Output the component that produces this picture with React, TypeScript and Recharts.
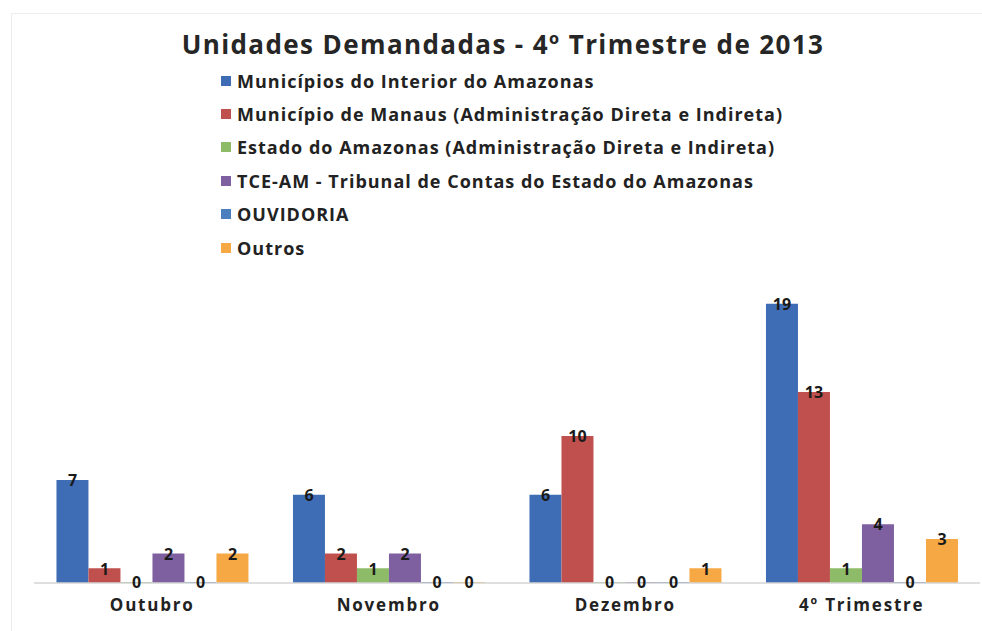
import { BarChart, Bar, XAxis, YAxis, Legend, LabelList } from "recharts";

const categories = ["Outubro", "Novembro", "Dezembro", "4º Trimestre"];
const interior = [7, 6, 6, 19];
const manaus = [1, 2, 10, 13];
const estado = [0, 1, 0, 1];
const tce = [2, 2, 0, 4];
const ouvidoria = [0, 0, 0, 0];
const outros = [2, 0, 1, 3];

const series = [
  { key: "interior", name: "Municípios do Interior do Amazonas", color: "#3F6DB5", values: interior },
  { key: "manaus", name: "Município de Manaus (Administração Direta e Indireta)", color: "#C0504D", values: manaus },
  { key: "estado", name: "Estado do Amazonas (Administração Direta e Indireta)", color: "#8DBB67", values: estado },
  { key: "tce", name: "TCE-AM - Tribunal de Contas do Estado do Amazonas", color: "#7E60A0", values: tce },
  { key: "ouvidoria", name: "OUVIDORIA", color: "#4A7EBF", values: ouvidoria },
  { key: "outros", name: "Outros", color: "#F6A845", values: outros },
];

const data = categories.map((name, i) => {
  const row: Record<string, string | number> = { name };
  series.forEach((s) => {
    row[s.key] = s.values[i];
  });
  return row;
});

const FONT = "'Open Sans', sans-serif";

// eslint-disable-next-line @typescript-eslint/no-explicit-any
const BarLabel = (props: any) => {
  const { x, y, width, value } = props;
  return (
    <text
      x={Number(x) + Number(width) / 2}
      y={Number(y) + 2}
      textAnchor="middle"
      dominantBaseline="middle"
      fontFamily={FONT}
      fontWeight={700}
      fontSize={16}
      fill="#1a1a1a"
    >
      {String(value)}
    </text>
  );
};

const LegendList = () => (
  <div style={{ fontFamily: FONT, fontWeight: 700, fontSize: 18, letterSpacing: 1, color: "#222" }}>
    {series.map((s) => (
      <div key={s.key} style={{ display: "flex", alignItems: "center", height: 33.4, whiteSpace: "nowrap" }}>
        <span style={{ width: 10, height: 10, background: s.color, marginRight: 6, display: "inline-block" }} />
        <span>{s.name}</span>
      </div>
    ))}
  </div>
);

export default function App() {
  return (
    <div style={{ position: "absolute", left: 0, top: 0, width: 982, height: 631, background: "#fff", overflow: "hidden" }}>
      <div
        style={{
          position: "absolute",
          left: 11,
          top: 13,
          width: 990,
          height: 640,
          borderLeft: "1px solid #ececec",
          borderTop: "1px solid #ececec",
        }}
      />
      <div
        style={{
          position: "absolute",
          left: 24,
          top: 27,
          width: 958,
          textAlign: "center",
          fontFamily: FONT,
          fontWeight: 700,
          fontSize: 26,
          letterSpacing: 1.4,
          lineHeight: "34px",
          color: "#262626",
        }}
      >
        Unidades Demandadas - 4º Trimestre de 2013
      </div>
      <BarChart
        width={982}
        height={631}
        data={data}
        margin={{ top: 289, right: 2, left: 34, bottom: 18 }}
        barCategoryGap="9.5%"
        barGap={0}
      >
        <XAxis
          dataKey="name"
          height={30}
          axisLine={{ stroke: "#d4d4d4", strokeWidth: 1.5 }}
          tickLine={false}
          tickMargin={10}
          tick={{ fontFamily: FONT, fontWeight: 700, fontSize: 17, fill: "#222", letterSpacing: 1.8 }}
        />
        <YAxis hide domain={[0, 20]} />
        <Legend
          layout="vertical"
          align="center"
          verticalAlign="middle"
          wrapperStyle={{ top: 64, left: 221, width: "auto", height: "auto" }}
          content={() => <LegendList />}
        />
        {series.map((s) => (
          <Bar
            key={s.key}
            dataKey={s.key}
            name={s.name}
            fill={s.color}
            minPointSize={1}
            isAnimationActive={false}
          >
            <LabelList dataKey={s.key} content={BarLabel} />
          </Bar>
        ))}
      </BarChart>
    </div>
  );
}
